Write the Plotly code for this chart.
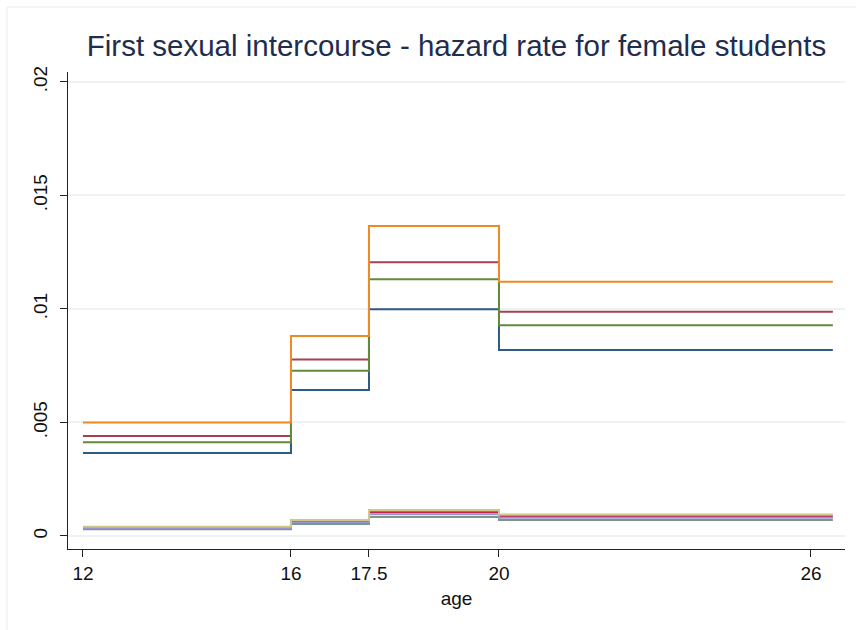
import plotly.graph_objects as go

# Interval boundaries (age) and the end of follow-up
age_cuts = [12, 16, 17.5, 20]
age_end = 26.42

# Piecewise-constant hazard per interval, one list per covariate pattern
haz_navy = [0.00366, 0.00643, 0.00999, 0.00819]
haz_maroon = [0.00441, 0.00778, 0.01206, 0.00988]
haz_green = [0.00413, 0.00728, 0.01131, 0.00928]
haz_orange = [0.00500, 0.00881, 0.01366, 0.01120]
haz_teal = [0.00030, 0.00053, 0.00084, 0.00071]
haz_cranberry = [0.00037, 0.00065, 0.00105, 0.00087]
haz_lavender = [0.00034, 0.00060, 0.00096, 0.00080]
haz_khaki = [0.00041, 0.00071, 0.00114, 0.00095]

x_ticks = [12, 16, 17.5, 20, 26]
x_tick_labels = ["12", "16", "17.5", "20", "26"]
y_ticks = [0, 0.005, 0.01, 0.015, 0.02]
y_tick_labels = ["0", ".005", ".01", ".015", ".02"]

title_text = "First sexual intercourse - hazard rate for female students"
x_title = "age"

series = [
    (haz_navy, "#2e5a86"),
    (haz_maroon, "#a5424f"),
    (haz_green, "#618a3b"),
    (haz_orange, "#ee8a25"),
    (haz_teal, "#7a968d"),
    (haz_cranberry, "#c4234a"),
    (haz_lavender, "#9993d2"),
    (haz_khaki, "#cfc68a"),
]

xs = age_cuts + [age_end]
fig = go.Figure()
for vals, color in series:
    fig.add_trace(go.Scatter(
        x=xs, y=vals + [vals[-1]],
        mode="lines", line=dict(shape="hv", color=color, width=2),
        showlegend=False, hoverinfo="skip",
    ))

font_family = "Liberation Sans, Arial, Helvetica, sans-serif"

fig.update_layout(
    width=856, height=630,
    margin=dict(l=68, r=11, t=72, b=81),
    paper_bgcolor="white", plot_bgcolor="white",
    font=dict(family=font_family, size=19, color="#111111"),
    title=dict(text=title_text, x=0.5, xref="paper", xanchor="center",
               y=1 - 46 / 630, yref="container", yanchor="middle",
               font=dict(family=font_family, size=29.5, color="#1f2d4e")),
    xaxis=dict(
        range=[11.712, 26.654], tickvals=x_ticks, ticktext=x_tick_labels,
        showgrid=False, zeroline=False, showline=True, linecolor="#222222",
        linewidth=1.2, ticks="outside", ticklen=7, tickcolor="#222222",
        tickwidth=1.2,
        title=dict(text=x_title, standoff=8, font=dict(size=19)),
    ),
    yaxis=dict(
        range=[-0.000573, 0.02044], tickvals=y_ticks, ticktext=y_tick_labels,
        tickangle=-90, ticklabelstandoff=5,
        showgrid=True, gridcolor="#edf2f3", gridwidth=1.5,
        zeroline=False, showline=True, linecolor="#222222", linewidth=1.2,
        ticks="outside", ticklen=7, tickcolor="#222222", tickwidth=1.2,
    ),
    shapes=[dict(
        type="rect", xref="paper", yref="paper",
        x0=(7 - 68) / 777, x1=(880 - 68) / 777,
        y0=(549 - 650) / 477, y1=(549 - 7) / 477,
        line=dict(color="#e6edef", width=1), fillcolor="rgba(0,0,0,0)",
        layer="below",
    )],
)

fig.write_html("out.html")
